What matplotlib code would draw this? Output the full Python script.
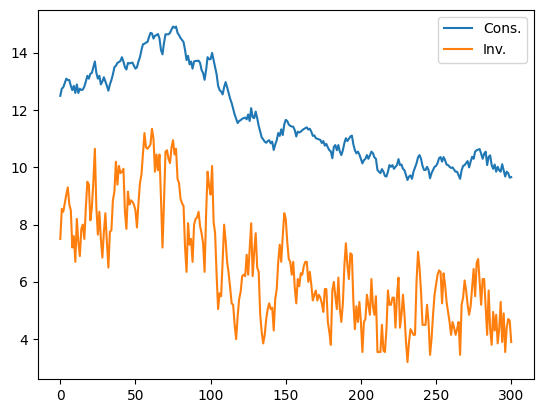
import numpy as np
import matplotlib
matplotlib.use("Agg")
import matplotlib.pyplot as plt

cons = [
    12.5, 12.75, 12.8, 12.95, 13.1, 13.05, 13.05, 12.85, 12.7, 12.85,
    12.6, 12.9, 12.6, 12.75, 12.7, 12.72, 12.82, 13.0, 13.2, 13.1,
    13.27, 13.3, 13.5, 13.7, 13.3, 13.1, 13.2, 12.9, 13.0, 13.15,
    13.0, 12.85, 12.68, 12.9, 13.05, 13.25, 13.5, 13.55, 13.65, 13.68,
    13.72, 13.85, 13.7, 13.5, 13.42, 13.65, 13.63, 13.65, 13.66, 13.55,
    13.45, 13.5, 13.7, 13.85, 14.1, 14.3, 14.32, 14.36, 14.38, 14.55,
    14.7, 14.68, 14.5, 14.6, 14.62, 14.66, 14.5, 14.1, 13.95, 14.35,
    14.65, 14.65, 14.65, 14.7, 14.82, 14.92, 14.88, 14.92, 14.7, 14.62,
    14.52, 14.45, 14.38, 14.1, 13.75, 13.9, 13.6, 13.7, 13.45, 13.7,
    13.72, 13.72, 13.73, 13.65, 13.4, 13.3, 13.06, 13.4, 13.85, 13.78,
    13.78, 14.0, 13.75, 13.5, 13.25, 12.85, 12.7, 12.65, 12.55, 12.8,
    12.98, 12.8, 12.6, 12.4, 12.25, 12.05, 11.85, 11.7, 11.55, 11.62,
    11.65, 11.7, 11.72, 11.74, 11.68, 11.85, 11.62, 12.07, 11.75, 11.72,
    11.95, 11.72, 11.45, 11.25, 11.05, 10.98, 10.9, 10.86, 10.92, 10.95,
    10.84, 10.9, 10.61, 10.8, 10.95, 11.2, 11.1, 11.33, 11.13, 11.5,
    11.66, 11.62, 11.5, 11.45, 11.43, 11.42, 11.3, 11.08, 11.25, 11.22,
    11.25, 11.3, 11.34, 11.37, 11.4, 11.32, 11.35, 11.25, 11.1, 11.12,
    11.02, 11.0, 10.98, 10.96, 10.85, 10.92, 10.76, 10.82, 10.7, 10.6,
    10.56, 10.32, 10.72, 10.78, 10.6, 10.78, 10.55, 10.43, 10.6, 10.85,
    11.02, 10.92, 11.0, 11.08, 11.11, 10.8, 10.6, 10.49, 10.55, 10.45,
    10.3, 10.14, 10.25, 10.3, 10.43, 10.3, 10.42, 10.55, 10.5, 10.35,
    10.3, 9.91, 9.85, 9.8, 9.94, 9.85, 9.7, 9.68, 9.85, 10.08,
    10.02, 10.08, 9.95, 10.02, 10.08, 10.29, 10.08, 10.1, 9.95, 9.9,
    9.73, 9.56, 9.68, 9.72, 9.6, 9.85, 10.0, 10.14, 10.35, 10.43,
    10.3, 10.05, 9.91, 9.91, 10.02, 9.91, 9.62, 9.8, 9.91, 10.02,
    10.05, 10.15, 10.32, 10.36, 10.2, 10.36, 10.25, 10.1, 10.08, 10.02,
    9.98, 10.0, 9.92, 9.85, 9.85, 9.72, 9.6, 9.9, 10.05, 10.08,
    10.15, 10.22, 10.0, 10.2, 10.37, 10.3, 10.55, 10.6, 10.62, 10.64,
    10.48, 10.3, 10.48, 10.55, 10.08, 10.37, 10.42, 10.08, 9.95, 10.1,
    9.85, 10.02, 9.9, 9.85, 10.11, 9.9, 9.68, 9.85, 9.8, 9.64,
    9.66,
]

inv = [
    7.5, 8.55, 8.45, 8.75, 9.05, 9.3, 8.7, 8.5, 7.2, 7.6,
    6.7, 8.2, 7.4, 6.9, 7.85, 8.0, 7.5, 8.6, 9.5, 9.4,
    8.15, 8.6, 9.5, 10.65, 8.6, 7.65, 8.45, 7.5, 6.85, 7.75,
    8.4, 7.4, 6.5, 7.75, 7.8, 8.85, 9.15, 10.2, 9.4, 10.05,
    9.8, 9.85, 9.95, 8.45, 7.85, 9.15, 8.7, 8.85, 8.8, 8.7,
    8.5, 7.9, 8.75, 9.45, 9.75, 10.45, 11.2, 10.7, 10.65, 10.72,
    10.8, 11.35, 11.0, 9.85, 10.45, 9.9, 10.45, 8.9, 7.2, 8.8,
    10.55, 10.6, 10.3, 10.15, 10.7, 10.95, 10.45, 10.65, 9.6, 9.45,
    8.9, 8.75, 8.65, 7.2, 6.35, 8.05, 7.3, 7.5, 6.7, 8.0,
    8.2, 8.25, 8.45, 7.95, 7.7, 7.35, 6.35, 8.35, 9.85, 9.35,
    9.05, 10.05, 8.1, 7.7, 6.25, 5.05, 5.6, 5.5, 6.7, 8.0,
    7.45, 6.7, 6.3, 5.8, 5.25, 5.2, 4.5, 4.0, 4.8, 5.4,
    5.65, 6.2, 6.25, 6.2, 6.95, 6.25, 7.15, 8.05, 6.2, 7.05,
    7.7, 6.5, 6.35, 4.85, 4.25, 3.85, 4.15, 4.7, 5.05, 5.25,
    5.05, 5.1, 4.3, 5.4, 5.75, 6.7, 7.3, 6.7, 7.6, 8.4,
    8.2, 7.4, 6.8, 6.7, 6.25, 6.7, 5.8, 5.25, 6.1, 5.85,
    6.3, 6.25, 6.55, 6.7, 6.7, 6.0, 6.35, 5.9, 5.35, 5.55,
    5.7, 5.35, 5.55, 5.45, 5.25, 4.95, 5.75, 5.75, 4.6, 4.25,
    3.8, 5.7, 6.0, 5.5, 5.05, 6.15, 5.05, 4.6, 5.25, 6.55,
    7.35, 6.6, 6.1, 7.0, 6.95, 5.3, 4.35, 5.15, 4.6, 5.3,
    4.6, 3.55, 4.6, 4.7, 5.55, 5.2, 4.85, 6.1, 5.15, 4.85,
    5.5, 3.55, 3.55, 3.55, 4.5, 3.6, 3.55, 4.35, 5.7, 5.2,
    5.2, 5.45, 5.45, 4.4, 5.5, 6.15, 4.4, 4.85, 5.55, 4.85,
    3.9, 3.2, 3.9, 4.35, 4.25, 4.15, 4.15, 6.0, 7.05, 6.5,
    5.65, 4.5, 4.5, 4.5, 5.2, 4.6, 3.45, 4.0, 4.85, 5.55,
    5.9, 6.25, 6.4, 6.35, 5.25, 6.3, 5.9, 5.3, 4.95, 4.6,
    4.15, 4.6, 4.4, 4.15, 4.35, 4.6, 3.45, 5.2, 5.45, 6.05,
    5.7, 5.2, 4.85, 5.15, 5.8, 6.45, 5.5, 6.65, 6.8, 6.0,
    5.2, 6.1, 6.1, 5.1, 4.15, 5.7, 4.35, 3.8, 4.95, 4.3,
    4.85, 3.85, 4.35, 5.3, 3.9, 4.9, 3.55, 4.4, 4.7, 4.65,
    3.9,
]

labels = ["Cons.", "Inv."]

W, H = 543, 413
fig = plt.figure(figsize=(W / 100, H / 100), dpi=100)
ax = fig.add_axes([37.75 / W, (H - 378.8) / H, 496 / W, 369 / H])
ax.plot(np.arange(len(cons)), cons, label=labels[0])
ax.plot(np.arange(len(inv)), inv, label=labels[1])
ax.set_xticks([0, 50, 100, 150, 200, 250, 300])
ax.set_yticks([4, 6, 8, 10, 12, 14])
ax.legend(loc="upper right")
fig.savefig("out.png", dpi=100)
